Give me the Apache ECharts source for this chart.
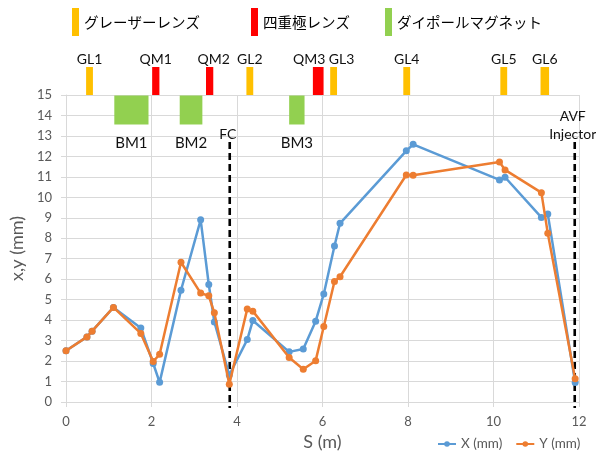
<!DOCTYPE html>
<html>
<head>
<meta charset="utf-8">
<script src="https://cdn.jsdelivr.net/npm/echarts@6/dist/echarts.min.js"></script>
<style>
  html, body { margin: 0; padding: 0; background: #fff; }
  #chart { width: 596px; height: 453px; }
</style>
</head>
<body>
<div id="chart"></div>
<script>
// Beam envelope along the transport line
const sPos = [0, 0.49, 0.61, 1.11, 1.75, 2.04, 2.19, 2.69, 3.15, 3.34, 3.47, 3.82, 4.24, 4.37,
              5.22, 5.55, 5.84, 6.03, 6.28, 6.41, 7.96, 8.12, 10.14, 10.27, 11.12, 11.27, 11.91];
const xSize = [2.5, 3.18, 3.46, 4.62, 3.62, 1.88, 0.96, 5.46, 8.9, 5.74, 3.91, 1.32, 3.05, 3.98,
               2.45, 2.59, 3.95, 5.28, 7.62, 8.73, 12.27, 12.59, 10.85, 10.98, 9.02, 9.18, 0.95];
const ySize = [2.5, 3.18, 3.46, 4.62, 3.35, 1.98, 2.33, 6.83, 5.32, 5.19, 4.36, 0.87, 4.55, 4.44,
               2.17, 1.6, 2.02, 3.69, 5.89, 6.12, 11.09, 11.08, 11.73, 11.34, 10.23, 8.24, 1.13];

// Beamline elements (centre / length or start / end, in m)
const glNames = ['GL1', 'GL2', 'GL3', 'GL4', 'GL5', 'GL6'];
const glCenter = [0.55, 4.30, 6.26, 7.97, 10.24, 11.20];
const glLength = [0.16, 0.16, 0.16, 0.16, 0.16, 0.20];
const qmNames = ['QM1', 'QM2', 'QM3'];
const qmCenter = [2.10, 3.36, 5.90];
const qmLength = [0.17, 0.17, 0.25];
const bmNames = ['BM1', 'BM2', 'BM3'];
const bmStart = [1.13, 2.66, 5.22];
const bmEnd = [1.93, 3.19, 5.58];

// Reference positions (Faraday cup, injector)
const markNames = ['FC', 'AVF\nInjector'];
const markPos = [3.83, 11.90];

// Axis ticks
const xTicks = { min: 0, max: 12, step: 2 };
const yTicks = { min: 0, max: 15, step: 1 };

const LATIN = 'Lato, "Noto Sans", sans-serif';
const CJK = '"Noto Sans CJK JP", sans-serif';
const GREY = '#595959';

// Horizontal nudges (px) so neighbouring element labels do not collide
const labelNudge = { QM2: 4, QM3: -9, GL3: 8 };

function topBar(names) {
  return function (params, api) {
    const c = api.value(0), len = api.value(1);
    const x0 = api.coord([c - len / 2, yTicks.max])[0];
    const x1 = api.coord([c + len / 2, yTicks.max])[0];
    const yb = api.coord([c, yTicks.max])[1];
    const h = 28;
    const name = names[params.dataIndex];
    return {
      type: 'group',
      children: [
        { type: 'rect', shape: { x: x0, y: yb - h, width: x1 - x0, height: h },
          style: { fill: api.visual('color') } },
        { type: 'text', x: (x0 + x1) / 2 + (labelNudge[name] || 0), y: yb - h - 1,
          style: { text: name, align: 'center', verticalAlign: 'bottom',
                   font: '14px ' + LATIN, fill: '#111' } }
      ]
    };
  };
}

function dipole(params, api) {
  const a = api.coord([api.value(0), yTicks.max]);
  const b = api.coord([api.value(1), yTicks.max]);
  const h = 29;
  return {
    type: 'group',
    children: [
      { type: 'rect', shape: { x: a[0], y: a[1] + 0.5, width: b[0] - a[0], height: h },
        style: { fill: api.visual('color') } },
      { type: 'text', x: (a[0] + b[0]) / 2, y: a[1] + h + 12,
        style: { text: bmNames[params.dataIndex], align: 'center', verticalAlign: 'top',
                 font: '15px ' + LATIN, fill: '#111' } }
    ]
  };
}

function marker(params, api) {
  const x = api.value(0);
  const top = api.coord([x, 12.7]);
  const bottom = api.coord([x, yTicks.min]);
  return {
    type: 'group',
    children: [
      { type: 'line', shape: { x1: top[0], y1: top[1], x2: bottom[0], y2: bottom[1] + 6 },
        style: { stroke: '#000', lineWidth: 2.6, lineDash: [7, 4] } },
      { type: 'text', x: top[0] - 2, y: top[1] + 1,
        style: { text: markNames[params.dataIndex], align: 'center', verticalAlign: 'bottom',
                 font: '14px ' + LATIN, lineHeight: 18, fill: '#111' } }
    ]
  };
}

const topLegend = (name, left) => ({
  data: [name], left: left, top: 8, padding: 0, icon: 'rect', itemWidth: 7, itemHeight: 28,
  itemGap: 0, textStyle: { fontFamily: CJK, fontSize: 14.5, color: '#000' }, selectedMode: false
});

const chart = echarts.init(document.getElementById('chart'), null, { renderer: 'canvas' });

chart.setOption({
  animation: false,
  backgroundColor: '#fff',
  grid: { left: 66, right: 17, top: 95, bottom: 51, outerBoundsMode: 'none' },
  legend: [
    topLegend('グレーザーレンズ', 72),
    topLegend('四重極レンズ', 251),
    topLegend('ダイポールマグネット', 385),
    { data: ['X (mm)', 'Y (mm)'], left: 437, top: 437, padding: 0, itemWidth: 18, itemHeight: 7,
      itemGap: 13, textStyle: { fontFamily: LATIN, fontSize: 13.5, color: GREY }, selectedMode: false }
  ],
  xAxis: {
    type: 'value', min: xTicks.min, max: xTicks.max, interval: xTicks.step,
    name: 'S (m)', nameLocation: 'middle', nameGap: 31,
    nameTextStyle: { fontFamily: LATIN, fontSize: 18, color: GREY },
    axisLine: { show: true, lineStyle: { color: '#d9d9d9', width: 1 } },
    axisTick: { show: true, length: 5, lineStyle: { color: '#d9d9d9' } },
    axisLabel: { margin: 13, fontFamily: LATIN, fontSize: 13, color: GREY },
    splitLine: { show: true, lineStyle: { color: '#d9d9d9', width: 1 } }
  },
  yAxis: {
    type: 'value', min: yTicks.min, max: yTicks.max, interval: yTicks.step,
    name: 'x,y (mm)', nameLocation: 'middle', nameGap: 37, nameRotate: 90,
    nameTextStyle: { fontFamily: LATIN, fontSize: 18, color: GREY },
    axisLine: { show: true, lineStyle: { color: '#d9d9d9', width: 1 } },
    axisTick: { show: true, length: 5, lineStyle: { color: '#d9d9d9' } },
    axisLabel: { margin: 14, fontFamily: LATIN, fontSize: 13, color: GREY },
    splitLine: { show: true, lineStyle: { color: '#d9d9d9', width: 1 } }
  },
  series: [
    {
      name: 'グレーザーレンズ', type: 'custom', renderItem: topBar(glNames),
      itemStyle: { color: '#FFC000' }, silent: true, z: 5,
      data: glCenter.map((c, i) => [c, glLength[i]])
    },
    {
      name: '四重極レンズ', type: 'custom', renderItem: topBar(qmNames),
      itemStyle: { color: '#FF0000' }, silent: true, z: 5,
      data: qmCenter.map((c, i) => [c, qmLength[i]])
    },
    {
      name: 'ダイポールマグネット', type: 'custom', renderItem: dipole,
      itemStyle: { color: '#92D050' }, silent: true, z: 5,
      data: bmStart.map((s, i) => [s, bmEnd[i]])
    },
    {
      name: 'markers', type: 'custom', renderItem: marker, silent: true, z: 6,
      data: markPos.map(p => [p])
    },
    {
      name: 'X (mm)', type: 'line', z: 10,
      data: sPos.map((s, i) => [s, xSize[i]]),
      symbol: 'circle', symbolSize: 7,
      itemStyle: { color: '#5B9BD5' },
      lineStyle: { color: '#5B9BD5', width: 2.5 }
    },
    {
      name: 'Y (mm)', type: 'line', z: 11,
      data: sPos.map((s, i) => [s, ySize[i]]),
      symbol: 'circle', symbolSize: 7,
      itemStyle: { color: '#ED7D31' },
      lineStyle: { color: '#ED7D31', width: 2.5 }
    }
  ]
});
</script>
</body>
</html>
